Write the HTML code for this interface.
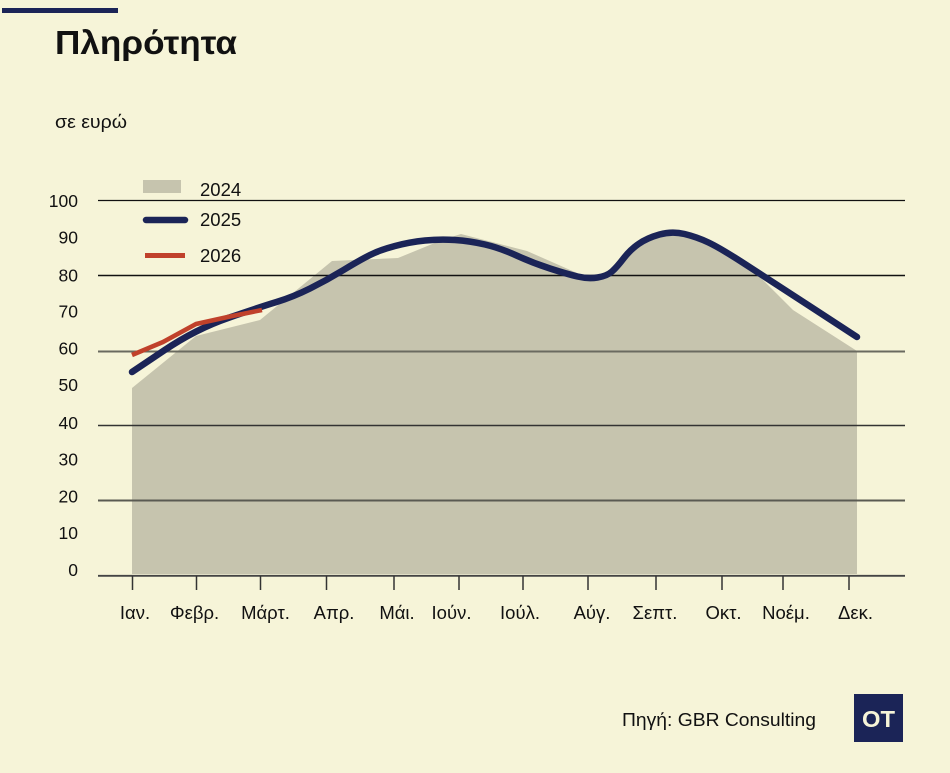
<!DOCTYPE html>
<html>
<head>
<meta charset="utf-8">
<style>
  html,body{margin:0;padding:0;background:#f6f4d8;}
  svg{display:block;}
  text{font-family:"Liberation Sans","DejaVu Sans",sans-serif;fill:#111;}
</style>
</head>
<body>
<svg width="950" height="773" viewBox="0 0 950 773" xmlns="http://www.w3.org/2000/svg">
  <rect x="0" y="0" width="950" height="773" fill="#f6f4d8"/>
  <!-- top bar -->
  <rect x="2" y="8" width="116" height="5" fill="#1b2457"/>
  <!-- title -->
  <text x="55" y="54" font-size="33" font-weight="bold" textLength="182" lengthAdjust="spacingAndGlyphs">Πληρότητα</text>
  <text x="55" y="128" font-size="18.5" textLength="72" lengthAdjust="spacingAndGlyphs">σε ευρώ</text>

  <!-- area 2024 -->
  <path d="M132,574 L132,388 L196,336 L260,320 L332,261 L398,258 L442,240 L461,234 L527,251 L577,273 L588,279 L607,277 L617,268 L630,252 L647,240 L672,235 L697,239 L720,251 L760,277 L793,310 L857,351 L857,574 Z" fill="#c6c4ae"/>

  <!-- gridlines -->
  <line x1="98" y1="200.5" x2="905" y2="200.5" stroke="#111" stroke-width="1.2"/>
  <line x1="98" y1="275.5" x2="905" y2="275.5" stroke="#111" stroke-width="1.4"/>
  <line x1="98" y1="351.5" x2="905" y2="351.5" stroke="#6a6a60" stroke-width="2"/>
  <line x1="98" y1="425.5" x2="905" y2="425.5" stroke="#333" stroke-width="1.5"/>
  <line x1="98" y1="500.5" x2="905" y2="500.5" stroke="#5a5a52" stroke-width="2"/>
  <line x1="98" y1="575.8" x2="905" y2="575.8" stroke="#444" stroke-width="1.8"/>

  <!-- ticks -->
  <g stroke="#333" stroke-width="1.5">
    <line x1="132.5" y1="576" x2="132.5" y2="590"/>
    <line x1="196.5" y1="576" x2="196.5" y2="590"/>
    <line x1="260.5" y1="576" x2="260.5" y2="590"/>
    <line x1="326.5" y1="576" x2="326.5" y2="590"/>
    <line x1="394" y1="576" x2="394" y2="590"/>
    <line x1="459" y1="576" x2="459" y2="590"/>
    <line x1="523" y1="576" x2="523" y2="590"/>
    <line x1="588" y1="576" x2="588" y2="590"/>
    <line x1="656" y1="576" x2="656" y2="590"/>
    <line x1="722" y1="576" x2="722" y2="590"/>
    <line x1="783" y1="576" x2="783" y2="590"/>
    <line x1="849" y1="576" x2="849" y2="590"/>
  </g>

  <!-- y labels -->
  <g font-size="17.5" text-anchor="end">
    <text x="78" y="207">100</text>
    <text x="78" y="243.5">90</text>
    <text x="78" y="281.5">80</text>
    <text x="78" y="317.5">70</text>
    <text x="78" y="354.5">60</text>
    <text x="78" y="391">50</text>
    <text x="78" y="429">40</text>
    <text x="78" y="465.5">30</text>
    <text x="78" y="502.5">20</text>
    <text x="78" y="539">10</text>
    <text x="78" y="576">0</text>
  </g>

  <!-- x labels -->
  <g font-size="18.5" text-anchor="middle">
    <text x="135" y="619">Ιαν.</text>
    <text x="194.5" y="619">Φεβρ.</text>
    <text x="265.5" y="619">Μάρτ.</text>
    <text x="334" y="619">Απρ.</text>
    <text x="397" y="619">Μάι.</text>
    <text x="451.5" y="619">Ιούν.</text>
    <text x="520" y="619">Ιούλ.</text>
    <text x="592" y="619">Αύγ.</text>
    <text x="655" y="619">Σεπτ.</text>
    <text x="723.5" y="619">Οκτ.</text>
    <text x="786" y="619">Νοέμ.</text>
    <text x="855.5" y="619">Δεκ.</text>
  </g>

  <!-- 2025 line -->
  <path d="M132,372 L164,350.5 Q196,329 228,318 Q260,307 276.5,302 Q293,297 310,288.5 Q327,280 343.5,270 Q360,260 370,255 Q380,250 395,246 Q410,242 425,240.5 Q440,239 455,240 Q470,241 485,244.5 Q500,248 516.5,255.5 Q533,263 550,268.5 Q567,274 577.5,276.5 Q588,279 597.5,277.5 Q607,276 612,271.5 Q617,267 623.5,258.5 Q630,250 638.5,244 Q647,238 659.5,234.5 Q672,231 684.5,234 Q697,237 708.5,242.5 Q720,248 741,261.5 Q762,275 809.5,306 L857,337" fill="none" stroke="#1b2457" stroke-width="6.5" stroke-linecap="round" stroke-linejoin="round"/>

  <!-- 2026 line -->
  <polyline points="132,355 163,342 196,324 230,316.5 262,310" fill="none" stroke="#c0412b" stroke-width="4.5" stroke-linecap="butt" stroke-linejoin="round"/>

  <!-- legend -->
  <rect x="143" y="180" width="38" height="13" fill="#c6c4ae"/>
  <text x="200" y="196" font-size="18.5">2024</text>
  <line x1="146" y1="220" x2="185" y2="220" stroke="#1b2457" stroke-width="6.5" stroke-linecap="round"/>
  <text x="200" y="226" font-size="18.5">2025</text>
  <line x1="145" y1="255.5" x2="185" y2="255.5" stroke="#c0412b" stroke-width="5"/>
  <text x="200" y="262" font-size="18.5">2026</text>

  <!-- source -->
  <text x="622" y="726" font-size="18.5" textLength="194" lengthAdjust="spacingAndGlyphs">Πηγή: GBR Consulting</text>
  <rect x="854" y="694" width="49" height="48" fill="#1b2457"/>
  <text x="878.5" y="727" font-size="23" font-weight="bold" text-anchor="middle" style="fill:#f6f4d8" textLength="33" lengthAdjust="spacingAndGlyphs">OT</text>
</svg>
</body>
</html>
